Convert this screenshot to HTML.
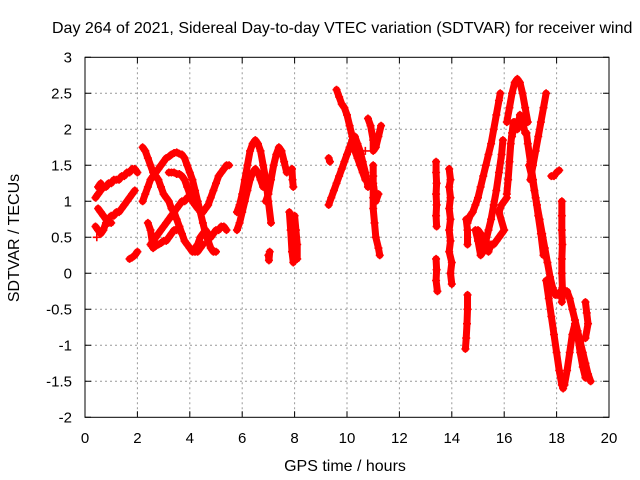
<!DOCTYPE html>
<html><head><meta charset="utf-8"><style>
body{margin:0;background:#fff}
svg{display:block;font-family:"Liberation Sans",sans-serif}
</style></head><body>
<svg id="chart" width="640" height="480">
<text x="52" y="33" font-size="16" fill="#000">Day 264 of 2021, Sidereal Day-to-day VTEC variation (SDTVAR) for receiver wind</text>
<text x="345" y="471" font-size="16" text-anchor="middle">GPS time / hours</text>
<text x="0" y="0" font-size="16" text-anchor="middle" transform="translate(19,238) rotate(-90)">SDTVAR / TECUs</text>
<g id="grid"></g>
<g id="marks"></g>
<rect x="85" y="57.3" width="524" height="360" fill="none" stroke="#000" stroke-width="1"/>
<g id="ticks"></g>
</svg>
<script>
const xTicks=[0,2,4,6,8,10,12,14,16,18,20];
const yTicks=[-2,-1.5,-1,-0.5,0,0.5,1,1.5,2,2.5,3];
const yTickLabels=["-2","-1.5","-1","-0.5","0","0.5","1","1.5","2","2.5","3"];
// tracks: [time(h), value(TECU)] pairs
const track1=[[0.4,1.05],[0.5,1.1],[0.6,1.15],[0.7,1.2],[0.8,1.2],[0.9,1.25],[1.0,1.25],[1.1,1.3],[1.2,1.3],[1.3,1.3],[1.4,1.35],[1.5,1.35],[1.6,1.4],[1.7,1.4],[1.8,1.45],[1.9,1.45],[2.0,1.4]];
const track2=[[0.4,0.65],[0.5,0.6],[0.6,0.55],[0.7,0.6],[0.8,0.7],[0.9,0.75],[1.0,0.8],[1.1,0.8],[1.2,0.85],[1.3,0.85],[1.4,0.9],[1.5,0.95],[1.6,1.0],[1.7,1.05],[1.8,1.1],[1.9,1.15]];
const track3=[[0.45,0.5],[0.5,0.9],[0.6,0.85],[0.7,0.8],[0.8,0.75],[0.9,0.7],[1.0,0.7],[0.5,1.2],[0.6,1.25]];
const track4=[[1.7,0.2],[1.8,0.22],[1.9,0.25],[2.0,0.3]];
const track5=[[2.2,1.0],[2.3,1.1],[2.4,1.2],[2.5,1.3],[2.6,1.35],[2.7,1.4],[2.8,1.45],[2.9,1.5],[3.0,1.55],[3.1,1.6],[3.2,1.62],[3.3,1.65],[3.4,1.67],[3.5,1.68],[3.6,1.66],[3.7,1.65],[3.8,1.6],[3.9,1.5],[4.0,1.4],[4.1,1.3],[4.2,1.15],[4.3,1.0],[4.4,0.85],[4.5,0.7],[4.6,0.55],[4.7,0.45],[4.8,0.35],[4.9,0.3],[5.0,0.3]];
const track6=[[2.2,1.75],[2.3,1.7],[2.4,1.6],[2.5,1.5],[2.6,1.4],[2.7,1.35],[2.8,1.3],[2.9,1.2],[3.0,1.1],[3.1,1.05],[3.2,1.0],[3.3,0.9],[3.4,0.85],[3.5,0.75],[3.6,0.65],[3.7,0.55],[3.8,0.45],[3.9,0.4],[4.0,0.35],[4.1,0.3],[4.2,0.3],[4.3,0.3],[4.4,0.35],[4.5,0.4]];
const track7=[[2.5,0.4],[2.6,0.45],[2.7,0.5],[2.8,0.55],[2.9,0.6],[3.0,0.65],[3.1,0.7],[3.2,0.75],[3.3,0.8],[3.4,0.85],[3.5,0.9],[3.6,0.95],[3.7,1.0],[3.8,1.0],[3.9,1.05],[4.0,1.05]];
const track8=[[2.4,0.7],[2.5,0.6],[2.6,0.35],[2.7,0.38],[2.8,0.4],[2.9,0.42],[3.0,0.45],[3.1,0.45],[3.2,0.5],[3.3,0.55],[3.4,0.6],[3.5,0.6],[3.6,0.65]];
const track9=[[3.2,1.4],[3.3,1.4],[3.4,1.4],[3.5,1.38],[3.6,1.38],[3.7,1.35],[3.8,1.3],[3.9,1.2],[4.0,1.1],[4.1,1.0],[4.2,0.95],[4.3,0.9],[4.4,0.88],[4.5,0.85],[4.6,0.9],[4.7,0.95],[4.8,1.05],[4.9,1.15],[5.0,1.25],[5.1,1.35],[5.2,1.4],[5.3,1.45],[5.4,1.5],[5.5,1.5]];
const track10=[[4.2,0.35],[4.3,0.4],[4.4,0.5],[4.5,0.55],[4.6,0.6],[4.7,0.55],[4.8,0.5],[4.9,0.55],[5.0,0.6],[5.1,0.6],[5.2,0.65],[5.3,0.65],[5.4,0.6]];
const track11=[[5.8,0.85],[5.9,0.95],[6.0,1.1],[6.1,1.3],[6.2,1.5],[6.3,1.7],[6.4,1.8],[6.5,1.85],[6.6,1.8],[6.7,1.7],[6.8,1.5],[6.9,1.3],[7.0,1.0],[7.1,0.7]];
const track12=[[5.8,0.6],[5.9,0.7],[6.0,0.85],[6.1,1.0],[6.2,1.15],[6.3,1.3],[6.4,1.4],[6.5,1.45],[6.6,1.4],[6.7,1.3],[6.8,1.2]];
const track13=[[6.9,1.0],[7.0,1.1],[7.1,1.3],[7.2,1.5],[7.3,1.65],[7.4,1.75],[7.5,1.7],[7.6,1.55],[7.7,1.4]];
const track14=[[7.0,0.25],[7.02,0.18],[7.05,0.3],[7.9,1.45],[7.92,1.3],[7.95,1.2],[7.8,0.85],[7.85,0.6],[7.9,0.3],[7.95,0.15],[8.0,0.8],[8.05,0.6],[8.1,0.4],[8.1,0.2]];
const track15=[[9.3,1.6],[9.35,1.55],[9.3,0.95],[9.4,1.05],[9.5,1.15],[9.6,1.25],[9.7,1.35],[9.8,1.45],[9.9,1.55],[10.0,1.65],[10.1,1.75],[10.2,1.85],[10.3,1.9],[10.4,1.8],[10.5,1.7],[10.6,1.55],[10.7,1.4],[10.8,1.2]];
const track16=[[9.6,2.55],[9.7,2.45],[9.8,2.35],[9.9,2.3],[10.0,2.2],[10.1,2.05],[10.2,1.9],[10.3,1.7],[10.4,1.6],[10.5,1.5],[10.6,1.4],[10.7,1.3],[10.8,1.28],[10.9,1.25],[11.0,1.25],[11.1,1.0],[11.2,1.1]];
const track17=[[10.7,1.7],[10.8,2.15],[10.9,2.05],[11.0,1.85],[11.0,1.7],[11.1,1.75],[11.2,1.9],[11.3,2.05],[11.0,1.5],[11.0,1.35],[11.0,1.2],[11.0,1.05],[11.0,0.9],[11.05,0.7],[11.1,0.5],[11.2,0.35],[11.25,0.25]];
const track18=[[13.4,1.55],[13.4,1.4],[13.42,1.25],[13.4,1.1],[13.42,0.95],[13.4,0.8],[13.42,0.65],[13.4,0.2],[13.42,0.05],[13.4,-0.1],[13.45,-0.25],[13.9,1.45],[13.95,1.3],[13.9,1.2],[13.95,1.05],[13.9,0.9],[13.95,0.75],[13.9,0.6],[13.95,0.45],[13.9,0.3],[14.0,0.15],[13.95,0.0],[14.0,-0.15]];
const track19=[[14.55,0.75],[14.6,0.6],[14.6,0.4],[14.6,-0.3],[14.6,-0.5],[14.58,-0.7],[14.55,-0.9],[14.52,-1.05]];
const track20=[[14.6,0.7],[14.7,0.8],[14.8,0.85],[14.9,0.95],[15.0,1.05],[15.1,1.2],[15.2,1.35],[15.3,1.5],[15.4,1.65],[15.5,1.8],[15.6,2.0],[15.7,2.2],[15.8,2.4],[15.85,2.5]];
const track21=[[14.9,0.6],[15.0,0.45],[15.1,0.25],[15.2,0.3],[15.3,0.45],[15.4,0.6],[15.5,0.75],[15.6,0.95],[15.7,1.15],[15.8,1.4],[15.9,1.65],[15.95,1.85]];
const track22=[[15.0,0.6],[15.1,0.55],[15.2,0.5],[15.3,0.35],[15.4,0.3],[15.5,0.4],[15.6,0.4],[15.7,0.45],[15.8,0.5],[15.9,0.55],[16.0,0.6],[15.8,0.85],[15.9,0.95],[16.0,1.0],[16.1,1.05]];
const track23a=[[16.1,1.1],[16.15,1.3],[16.2,1.55],[16.25,1.8],[16.3,1.95],[16.35,2.1]];
const track23b=[[16.1,2.1],[16.2,2.3],[16.3,2.5],[16.4,2.65],[16.5,2.7],[16.6,2.65],[16.7,2.5],[16.8,2.3],[16.9,2.1]];
const track23c=[[16.3,1.9],[16.4,2.1],[16.5,2.0],[16.6,2.2],[16.7,2.1],[16.8,1.95]];
const track24=[[16.85,1.95],[16.9,1.8],[17.0,1.55],[17.1,1.3],[17.2,1.05],[17.3,0.8],[17.4,0.55],[17.5,0.25],[17.6,-0.1],[17.7,-0.35],[17.8,-0.6],[17.9,-0.85],[18.0,-1.1],[18.1,-1.35],[18.2,-1.55],[18.25,-1.6]];
const track25=[[16.95,1.5],[17.05,1.35],[17.15,1.15],[17.25,0.95],[17.35,0.75],[17.45,0.55],[17.55,0.35],[17.65,0.15],[17.75,-0.05],[17.85,-0.2],[17.95,-0.3],[18.05,-0.3],[18.15,-0.25],[18.25,-0.3],[18.4,-0.25],[18.5,-0.35],[18.6,-0.5],[18.7,-0.65],[18.8,-0.8],[18.9,-0.95],[19.0,-1.1],[19.1,-1.25],[19.2,-1.4],[19.3,-1.5]];
const track26=[[18.3,-1.55],[18.4,-1.35],[18.5,-1.1],[18.6,-0.85],[18.7,-0.7],[18.8,-0.85],[18.9,-1.1],[19.0,-1.3],[19.1,-1.45]];
const track27a=[[17.0,1.3],[17.1,1.5],[17.2,1.7],[17.3,1.9],[17.4,2.1],[17.5,2.3],[17.6,2.5]];
const track27b=[[17.8,1.35],[17.9,1.35],[18.0,1.4],[18.1,1.43]];
const track27c=[[18.2,1.0],[18.2,0.8],[18.2,0.6],[18.22,0.4],[18.2,0.2],[18.2,0.0],[18.22,-0.2],[18.2,-0.4]];
const track27d=[[19.1,-0.4],[19.15,-0.55],[19.2,-0.7],[19.1,-0.9]];
const tracks=[track1,track2,track3,track4,track5,track6,track7,track8,track9,track10,track11,track12,track13,track14,track15,track16,track17,track18,track19,track20,track21,track22,track23a,track23b,track23c,track24,track25,track26,track27a,track27b,track27c,track27d];

const NS="http://www.w3.org/2000/svg";
const X0=85,X1=609,Y0=417.3,Y1=57.3;
function xs(t){return X0+(t-0)/(20-0)*(X1-X0);}
function ys(v){return Y0-(v+2)/(3+2)*(Y0-Y1);}
const grid=document.getElementById('grid'),ticks=document.getElementById('ticks'),marks=document.getElementById('marks');
function mk(tag,attrs,parent){const e=document.createElementNS(NS,tag);for(const k in attrs)e.setAttribute(k,attrs[k]);parent.appendChild(e);return e;}
xTicks.forEach(t=>{
  const x=xs(t);
  if(t>0&&t<20){const g=mk('line',{x1:x,x2:x,y1:Y1,y2:Y0,stroke:'#999','stroke-dasharray':'2,3'},grid);
  
  }
  const tk=mk('path',{d:`M${x},${Y0}v-6M${x},${Y1}v6`,stroke:'#000'},ticks);
  
  
  const l=mk('text',{x:x,y:443,'font-size':15,'text-anchor':'middle'},ticks);l.textContent=String(t);
  
  
});
yTicks.forEach((v,i)=>{
  const y=ys(v);
  if(v>-2&&v<3){const g=mk('line',{x1:X0,x2:X1,y1:y,y2:y,stroke:'#999','stroke-dasharray':'2,3'},grid);
  
  }
  const tk=mk('path',{d:`M${X0},${y}h6M${X1},${y}h-6`,stroke:'#000'},ticks);
  
  
  const l=mk('text',{x:72,y:y+5,'font-size':15,'text-anchor':'end'},ticks);l.textContent=yTickLabels[i];
  
  
});
tracks.forEach(tr=>{
  let d='',band='',px=null,py=null;
  tr.forEach(p=>{
    const x=xs(p[0]),y=ys(p[1]);
    d+=`M${x-4},${y}h8M${x},${y-4}v8`;
    if(px!==null&&Math.hypot(x-px,y-py)<24){band+=`L${x},${y}`;}else{band+=`M${x},${y}`;}
    px=x;py=y;
  });
  const b=mk('path',{d:band,stroke:'#f00','stroke-width':7,fill:'none','stroke-linecap':'round','stroke-linejoin':'round'},marks);
  
  
  const path=mk('path',{d:d,stroke:'#f00','stroke-width':1.6,fill:'none'},marks);
  
  
});
</script>
</body></html>
